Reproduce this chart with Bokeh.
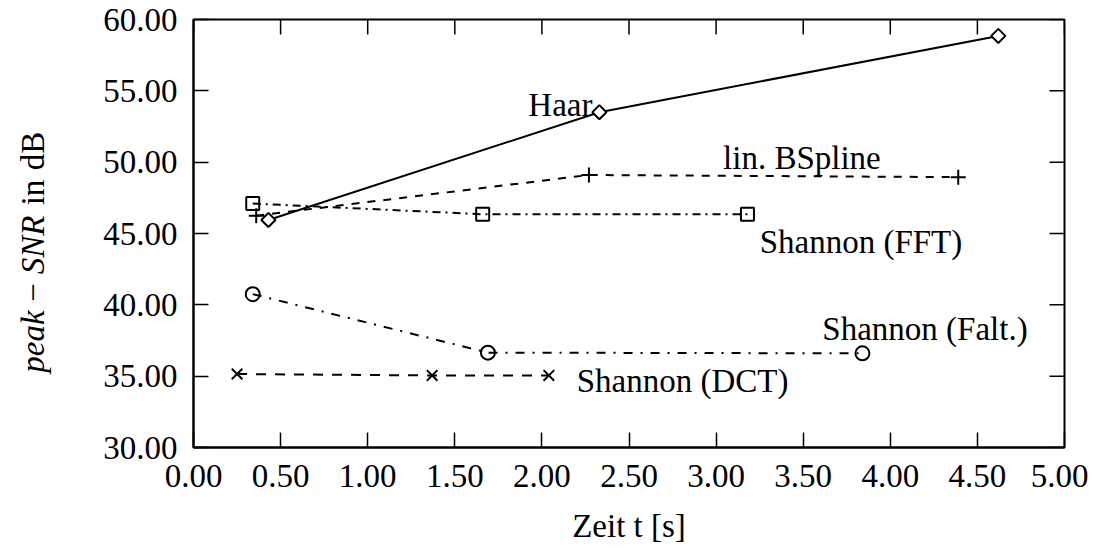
import numpy as np
from bokeh.plotting import figure
from bokeh.layouts import row
from bokeh.models import Range1d, Label, FixedTicker, NumeralTickFormatter
from bokeh.core.properties import value
from bokeh.embed import file_html
from bokeh.resources import INLINE

# ---- data ----
haar_t = [0.43, 2.33, 4.62]
haar_snr = [45.95, 53.5, 58.85]
bspline_t = [0.36, 2.27, 4.39]
bspline_snr = [46.25, 49.1, 48.95]
fft_t = [0.34, 1.66, 3.18]
fft_snr = [47.1, 46.35, 46.35]
falt_t = [0.34, 1.69, 3.84]
falt_snr = [40.75, 36.65, 36.6]
dct_t = [0.25, 1.37, 2.04]
dct_snr = [35.15, 35.05, 35.05]

x_ticks = [0.0, 0.5, 1.0, 1.5, 2.0, 2.5, 3.0, 3.5, 4.0, 4.5, 5.0]
y_ticks = [30, 35, 40, 45, 50, 55, 60]

y_title_parts = ["peak", "\u2212", "SNR", "in", "dB"]
y_title_styles = ["italic", "normal", "italic", "normal", "normal"]

FONT = "Liberation Serif"
FS = "33px"
TOTAL_H = 543
LW_PANEL = 80
FW, FH = 871, 428
X0, X1, Y0, Y1 = 0, 5, 30, 60
TICK = 15

# ---- narrow panel holding the y-axis title (mixed italic / upright) ----
t = figure(output_backend="svg", toolbar_location=None,
           frame_width=LW_PANEL, frame_height=TOTAL_H,
           x_range=Range1d(0, LW_PANEL), y_range=Range1d(0, TOTAL_H),
           min_border=0, outline_line_color=None,
           background_fill_color="white", border_fill_color="white")
t.axis.visible = False
t.grid.visible = False
title_y = [221, 270, 317.5, 370, 411.5]
for txt, st, yy in zip(y_title_parts, y_title_styles, title_y):
    t.text(x=[32], y=[yy], text=[txt], angle=np.pi / 2,
           text_font=value(FONT), text_font_size=FS, text_font_style=st,
           text_align="center", text_baseline="middle", text_color="black")

# ---- main plot ----
p = figure(output_backend="svg", toolbar_location=None,
           frame_width=FW, frame_height=FH,
           x_range=Range1d(X0, X1), y_range=Range1d(Y0, Y1),
           min_border_left=193 - LW_PANEL, min_border_right=24,
           min_border_top=19, min_border_bottom=TOTAL_H - 19 - FH,
           background_fill_color="white", border_fill_color="white")
p.grid.visible = False
p.outline_line_color = "black"
p.outline_line_width = 2

for ax in p.xaxis + p.yaxis:
    ax.major_tick_in = TICK
    ax.major_tick_out = 0
    ax.minor_tick_line_color = None
    ax.axis_line_width = 2
    ax.major_tick_line_width = 1.5
    ax.major_label_text_font = FONT
    ax.major_label_text_font_size = FS
    ax.major_label_text_color = "black"
    ax.formatter = NumeralTickFormatter(format="0.00")

p.xaxis.ticker = FixedTicker(ticks=x_ticks)
p.yaxis.ticker = FixedTicker(ticks=y_ticks)
p.xaxis.major_label_standoff = 17
p.yaxis.major_label_standoff = 16
p.xaxis.axis_label = "Zeit t [s]"
p.xaxis.axis_label_text_font = FONT
p.xaxis.axis_label_text_font_size = FS
p.xaxis.axis_label_text_font_style = "normal"
p.xaxis.axis_label_text_color = "black"
p.xaxis.axis_label_standoff = 18

# mirrored inward ticks on top and right edges
dy = TICK * (Y1 - Y0) / FH
dx = TICK * (X1 - X0) / FW
p.segment(x0=x_ticks, y0=[Y1] * len(x_ticks), x1=x_ticks, y1=[Y1 - dy] * len(x_ticks),
          line_color="black", line_width=1.5)
p.segment(x0=[X1] * len(y_ticks), y0=y_ticks, x1=[X1 - dx] * len(y_ticks), y1=y_ticks,
          line_color="black", line_width=1.5)

# ---- series ----
LW = 2
p.line(haar_t, haar_snr, line_color="black", line_width=LW)
p.scatter(haar_t, haar_snr, marker="square", angle=np.pi / 4, size=10,
          line_color="black", line_width=2, fill_color="white")

p.line(bspline_t, bspline_snr, line_color="black", line_width=LW, line_dash="8 8")
p.scatter(bspline_t, bspline_snr, marker="cross", size=15, line_color="black", line_width=2)

p.line(fft_t, fft_snr, line_color="black", line_width=LW, line_dash="8 5 2 5")
p.scatter(fft_t, fft_snr, marker="square", size=13, line_color="black", line_width=2,
          fill_color=None)

p.line(falt_t, falt_snr, line_color="black", line_width=LW, line_dash="9 8 2 8")
p.scatter(falt_t, falt_snr, marker="circle", size=14, line_color="black", line_width=2,
          fill_color=None)

p.line(dct_t, dct_snr, line_color="black", line_width=LW, line_dash="10 9")
p.scatter(dct_t, dct_snr, marker="x", size=15, line_color="black", line_width=2)

# ---- series labels ----
def lab(x, y, text, align="left"):
    p.add_layout(Label(x=x, y=y, text=text, text_font=FONT, text_font_size=FS,
                       text_align=align, text_baseline="alphabetic", text_color="black"))

lab(2.29, 54.0, "Haar", "right")
lab(3.04, 50.3, "lin. BSpline")
lab(3.25, 44.4, "Shannon (FFT)")
lab(3.61, 38.3, "Shannon (Falt.)")
lab(2.20, 34.65, "Shannon (DCT)")

layout = row(t, p, spacing=0)
open("out.html", "w").write(file_html(layout, INLINE))
